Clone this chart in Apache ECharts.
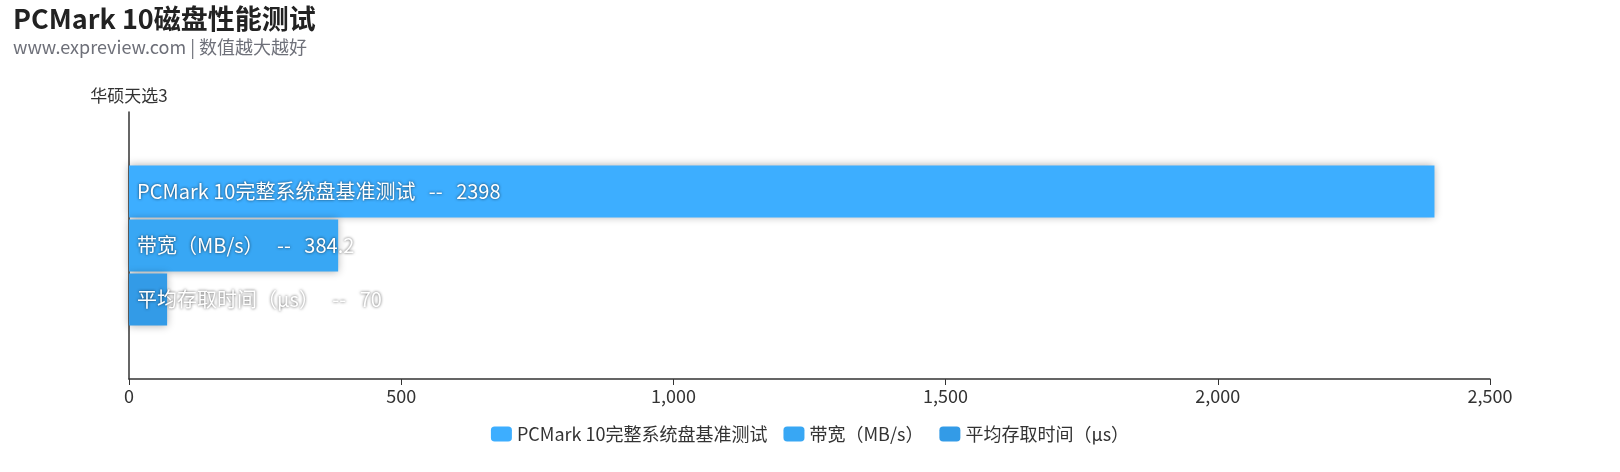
<!DOCTYPE html>
<html>
<head>
<meta charset="utf-8">
<script src="https://cdn.jsdelivr.net/npm/echarts@6/dist/echarts.min.js"></script>
<style>
html,body{margin:0;padding:0;background:#fff;}
#main{width:1620px;height:472px;}
</style>
</head>
<body>
<div id="main"></div>
<script>
var categories = ['华硕天选3'];
var seriesNames = ['PCMark 10完整系统盘基准测试', '带宽（MB/s）', '平均存取时间（μs）'];
var seriesValues = [[2398], [384.2], [70]];
var seriesColors = ['#3daeff', '#38a7f4', '#339be7'];
var xTicks = [0, 500, 1000, 1500, 2000, 2500];

var FONT = '"Noto Sans CJK SC", "Noto Sans", sans-serif';
var chart = echarts.init(document.getElementById('main'));

var series = seriesNames.map(function (name, i) {
  return {
    name: name,
    type: 'bar',
    data: seriesValues[i],
    barGap: '4%',
    barCategoryGap: '40%',
    itemStyle: {
      color: seriesColors[i],
      shadowBlur: 8,
      shadowColor: 'rgba(0,0,0,0.3)'
    },
    label: {
      show: true,
      position: 'insideLeft',
      distance: 8,
      formatter: '{a}   --   {c}',
      color: '#fff',
      fontSize: 20,
      fontFamily: FONT,
      textShadowColor: 'rgba(0,0,0,0.7)',
      textShadowBlur: 3,
      textShadowOffsetX: 0,
      textShadowOffsetY: 0
    }
  };
});

chart.setOption({
  animation: false,
  textStyle: { fontFamily: FONT },
  title: {
    text: 'PCMark 10磁盘性能测试',
    subtext: 'www.expreview.com | 数值越大越好',
    left: 8,
    top: 0,
    itemGap: 6,
    textStyle: { fontSize: 27, fontWeight: 'bold', color: '#222', fontFamily: FONT },
    subtextStyle: { fontSize: 18, color: '#6e7079', fontFamily: FONT }
  },
  legend: {
    bottom: 24,
    left: 'center',
    itemWidth: 21,
    itemHeight: 15,
    icon: 'roundRect',
    itemGap: 16,
    textStyle: { fontSize: 18, color: '#333', fontFamily: FONT },
    data: seriesNames
  },
  grid: { left: 129, right: 130, top: 112, bottom: 93, containLabel: false },
  xAxis: {
    type: 'value',
    min: xTicks[0],
    max: xTicks[xTicks.length - 1],
    interval: xTicks[1] - xTicks[0],
    axisLine: { show: true, lineStyle: { color: '#333', width: 1.5 } },
    axisTick: { show: true, length: 6, lineStyle: { color: '#333' } },
    splitLine: { show: false },
    axisLabel: {
      fontSize: 18, color: '#333', margin: 8, fontFamily: FONT,
      formatter: function (v) { return v.toLocaleString('en-US'); }
    }
  },
  yAxis: {
    type: 'category',
    data: categories,
    name: categories[0],
    nameLocation: 'end',
    nameGap: 8,
    nameTextStyle: { fontSize: 17, color: '#333', fontFamily: FONT },
    axisLine: { show: true, lineStyle: { color: '#333', width: 1.5 } },
    axisTick: { show: false },
    axisLabel: { show: false }
  },
  series: series
});
</script>
</body>
</html>
